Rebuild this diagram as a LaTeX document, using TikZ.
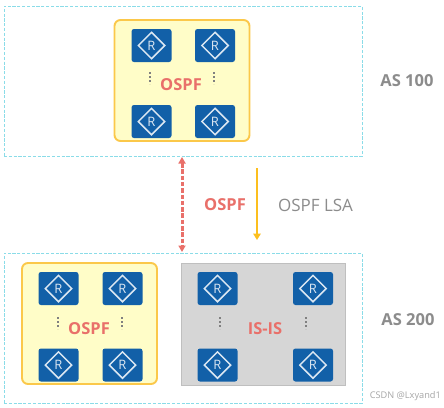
\documentclass[tikz,border=0pt]{standalone}
\usepackage{fontspec}
\setmainfont{Open Sans}
\usetikzlibrary{shapes.geometric,arrows.meta}
\definecolor{asline}{HTML}{8ADCE8}
\definecolor{routerblue}{HTML}{1260A8}
\definecolor{paleyellow}{HTML}{FFFDC8}
\definecolor{gold}{HTML}{FBC84A}
\definecolor{arrowgold}{HTML}{FCBF1E}
\definecolor{ospfred}{HTML}{E9706A}
\definecolor{panelgrey}{HTML}{D6D6D6}
\definecolor{greytext}{HTML}{8C8C8C}
\definecolor{dotgrey}{HTML}{808080}
\tikzset{
  asbox/.style={draw=asline,line width=1pt,dash pattern=on 3.2pt off 1.6pt},
  ospfpanel/.style={draw=gold,line width=1.9pt,fill=paleyellow,rounded corners=6pt},
  isispanel/.style={draw=black!25,line width=0.7pt,fill=panelgrey},
  routerbox/.style={fill=routerblue,rounded corners=2.5pt,minimum width=40pt,minimum height=33pt,inner sep=0pt,outer sep=0pt},
  routermark/.style={diamond,draw=white!85!routerblue,line width=1.5pt,aspect=1,minimum size=27pt,inner sep=0pt,text=white!85!routerblue,font=\fontsize{13}{15}\selectfont},
  boldred/.style={text=ospfred,font=\fontsize{16.5}{19}\selectfont\bfseries,inner sep=0pt},
  aslabel/.style={text=greytext,font=\fontsize{16.5}{19}\selectfont\bfseries,inner sep=0pt},
  vdots/.style={dotgrey,line width=2.2pt,dash pattern=on 2pt off 2pt},
}
\newcommand{\routerat}[3]{%
  \node[routerbox] (#1) at (#2,#3) {};
  \node[routermark] (#1m) at (#2,#3) {R};
}
\newcommand{\dotsat}[3]{%
  \coordinate (#1a) at (#2,#3-6);
  \coordinate (#1b) at (#2,#3+6);
  \draw[vdots] (#1a) -- (#1b);
}
\begin{document}
\begin{tikzpicture}[x=1pt,y=-1pt]
\useasboundingbox (0,0) rectangle (444,407);
\fill[white] (0,0) rectangle (444,407);
% AS boxes
\node[asbox,minimum width=358pt,minimum height=150pt,inner sep=0pt,outer sep=0pt] (as100) at (183,81) {};
\node[asbox,minimum width=358pt,minimum height=150pt,inner sep=0pt,outer sep=0pt] (as200) at (183,328) {};
% panels
\node[ospfpanel,minimum width=135pt,minimum height=121pt,inner sep=0pt] (top) at (182,80.5) {};
\node[ospfpanel,minimum width=135pt,minimum height=121pt,inner sep=0pt] (left) at (89.5,323.5) {};
\node[isispanel,minimum width=164pt,minimum height=122pt,inner sep=0pt] (grey) at (263,324) {};
% routers
\routerat{ta}{151.5}{45.5}
\routerat{tb}{215}{45.5}
\routerat{tc}{151.5}{121.5}
\routerat{td}{215}{121.5}
\routerat{la}{58.5}{288.5}
\routerat{lb}{122.5}{288.5}
\routerat{lc}{58.5}{365}
\routerat{ld}{122.5}{365}
\routerat{ga}{217.5}{288.5}
\routerat{gb}{313}{288.5}
\routerat{gc}{217.5}{365}
\routerat{gd}{313}{365}
% dots
\dotsat{d1}{150}{78}
\dotsat{d2}{214}{78}
\dotsat{d3}{58}{323}
\dotsat{d4}{122}{323}
\dotsat{d5}{220}{323}
\dotsat{d6}{306}{323}
% inner labels
\node[boldred] (t1) at (181,84.5) {OSPF};
\node[boldred] (t2) at (89,328.5) {OSPF};
\node[boldred] (t3) at (265,328.5) {IS-IS};
% connectors
\coordinate (redtop) at (182,157);
\coordinate (redbot) at (182,252);
\draw[ospfred,line width=3pt,dash pattern=on 4.5pt off 1.8pt,{Triangle[length=6.5pt,width=7pt]}-{Triangle[length=6.5pt,width=7pt]}] (redtop) -- (redbot);
\coordinate (goldtop) at (257,168);
\coordinate (goldbot) at (257,240);
\draw[arrowgold,line width=2.3pt,-{Triangle[length=6.5pt,width=7.5pt]}] (goldtop) -- (goldbot);
% labels
\node[boldred] (t4) at (225,205) {OSPF};
\node[text=greytext,font=\fontsize{17}{20}\selectfont,inner sep=0pt] (t5) at (315.5,205) {OSPF LSA};
\node[aslabel] (t6) at (407,81) {AS 100};
\node[aslabel] (t7) at (408,320) {AS 200};
\node[text=black!35,font=\fontsize{9.2}{11}\selectfont,anchor=east,inner sep=0pt] (t8) at (441,396) {CSDN @Lxyand1};
\end{tikzpicture}
\end{document}
